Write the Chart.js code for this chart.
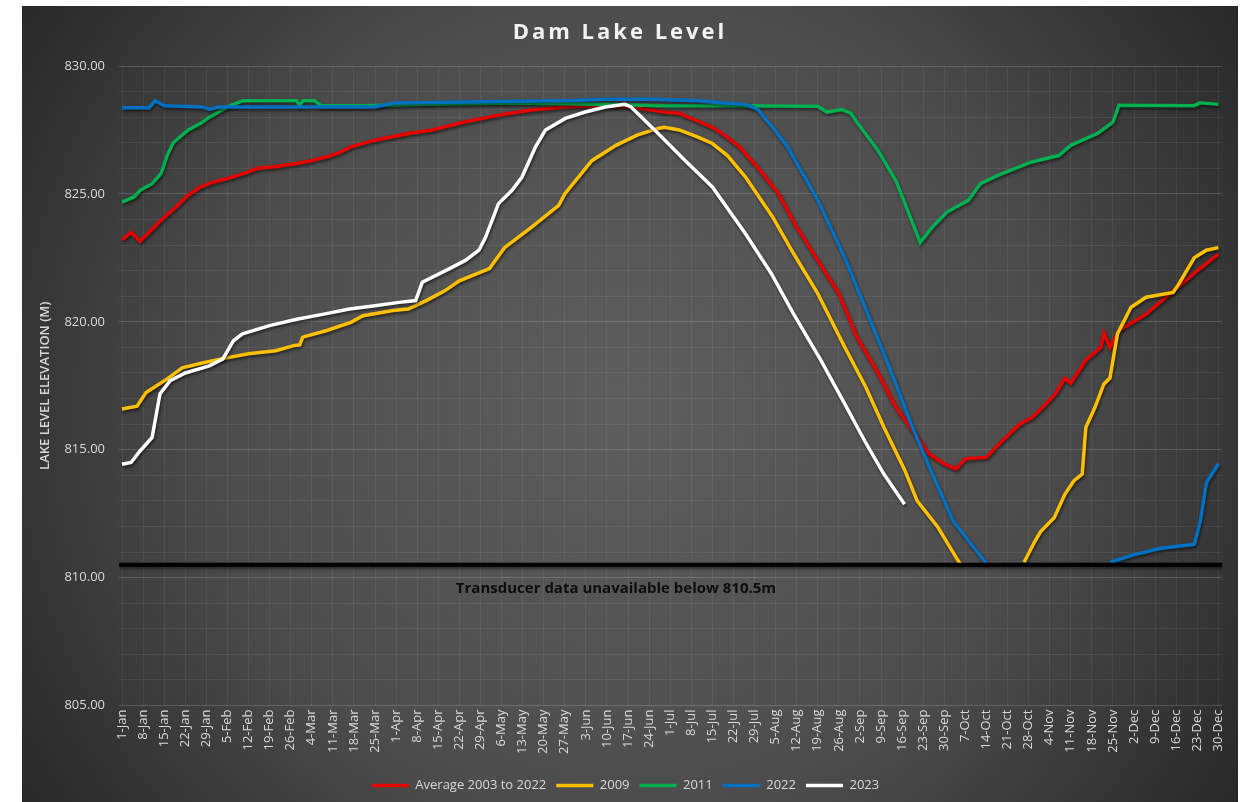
<!DOCTYPE html>
<html>
<head>
<meta charset="utf-8">
<script src="https://cdn.jsdelivr.net/npm/chart.js@4.4.1/dist/chart.umd.min.js"></script>
<style>
  html, body { margin: 0; padding: 0; background: #ffffff; }
  #wrap { position: absolute; left: 22px; top: 6px; width: 1216px; height: 796px; }
</style>
</head>
<body>
<div id="wrap"><canvas id="lakeChart"></canvas></div>
<script>
// tick labels, one every 7 days starting 1-Jan (day 0)
var tickLabels = ['1-Jan','8-Jan','15-Jan','22-Jan','29-Jan','5-Feb','12-Feb','19-Feb','26-Feb',
  '4-Mar','11-Mar','18-Mar','25-Mar','1-Apr','8-Apr','15-Apr','22-Apr','29-Apr',
  '6-May','13-May','20-May','27-May','3-Jun','10-Jun','17-Jun','24-Jun',
  '1-Jul','8-Jul','15-Jul','22-Jul','29-Jul','5-Aug','12-Aug','19-Aug','26-Aug',
  '2-Sep','9-Sep','16-Sep','23-Sep','30-Sep','7-Oct','14-Oct','21-Oct','28-Oct',
  '4-Nov','11-Nov','18-Nov','25-Nov','2-Dec','9-Dec','16-Dec','23-Dec','30-Dec'];

var seriesNames = ['Average 2003 to 2022', '2009', '2011', '2022', '2023'];
var seriesColors = ['#e60000', '#ffc000', '#00b050', '#0070c0', '#ffffff'];

// day of year (0 = 1-Jan) and lake level (m); null = below transducer range
var avgDays = [0,3,6,9,13,18,22,26,30,35,42,45,50,58,63,68,72,76,84,95,103,114,125,136,147,158,169,180,185,191,196,200,205,212,218,224,231,238,244,251,257,264,268,273,277,280,287,291,298,302,306,310,313,315,320,325,326,328,331,340,349,357,364];
var avgLevels = [823.2,823.5,823.15,823.5,823.97,824.5,824.95,825.27,825.45,825.6,825.86,826.0,826.05,826.19,826.3,826.45,826.6,826.84,827.1,827.36,827.5,827.82,828.08,828.28,828.4,828.45,828.4,828.2,828.15,827.85,827.6,827.3,826.84,825.9,825.0,823.7,822.4,821.1,819.4,818.0,816.65,815.5,814.83,814.44,814.25,814.65,814.7,815.2,816.0,816.25,816.7,817.2,817.8,817.6,818.5,819.0,819.55,819.0,819.66,820.3,821.2,822.0,822.65];

var y2009Days = [0,5,8,15,20,27,33,42,51,57,59,60,68,76,80,90,95,101,107,112,122,127,136,145,147,156,164,171,178,180,185,191,196,201,207,216,223,231,240,247,253,260,264,271,277,278.5,289,299.5,303,305,309.5,313,316,318.8,320,323,326,328,330.5,335,340,349,351,356,360,364];
var y2009Levels = [816.59,816.7,817.24,817.77,818.2,818.4,818.55,818.75,818.87,819.07,819.1,819.4,819.66,819.98,820.24,820.44,820.5,820.83,821.2,821.6,822.08,822.9,823.7,824.55,825.0,826.3,826.9,827.3,827.56,827.6,827.5,827.23,826.97,826.5,825.66,824.1,822.66,821.1,819.0,817.43,815.87,814.17,813.0,811.95,810.77,810.5,null,810.6,811.4,811.8,812.34,813.25,813.78,814.05,815.87,816.65,817.57,817.8,819.53,820.57,820.96,821.15,821.5,822.5,822.8,822.9];

var y2011Days = [0,4,6,10,13,15,17,22,26,29,35,40,58,59,60,64,66,80,100,130,160,180,200,231,234,239,242,244,251,257,262,265,269,274,281,285,291,302,311,315,324,329,331,356,358,364];
var y2011Levels = [824.68,824.88,825.14,825.4,825.8,826.5,827.0,827.5,827.75,828.0,828.4,828.64,828.64,828.45,828.64,828.64,828.45,828.45,828.5,828.55,828.5,828.45,828.45,828.43,828.2,828.3,828.15,827.8,826.7,825.5,824.0,823.1,823.7,824.3,824.75,825.4,825.73,826.25,826.5,826.9,827.37,827.8,828.47,828.45,828.56,828.5];

var y2022Days = [0,9,11,14,27,29,32,60,84,90,120,150,160,175,190,200,207,211,216,221,231,240,249,256.5,262,268.5,276,284,287,300,328,336,345,356,358,360,364];
var y2022Levels = [828.37,828.37,828.64,828.45,828.4,828.3,828.4,828.4,828.4,828.55,828.6,828.65,828.7,828.7,828.65,828.55,828.5,828.3,827.6,826.84,824.75,822.5,819.9,817.7,816.0,814.2,812.2,811.0,810.55,null,810.6,810.9,811.15,811.3,812.2,813.7,814.45];

var y2023Days = [0,3,6,10,12.6,16,21,29,33.5,37,40,49,58,67,75.5,84,92,97.5,99.7,108.6,114,118.5,120.7,125,129.5,132.8,137.3,140.6,147.2,153.8,160.5,167,169,178,187,196,207,215.6,223,232,240,246.6,253,259.8];
var y2023Levels = [814.43,814.5,814.95,815.48,817.18,817.7,818.0,818.28,818.55,819.26,819.53,819.85,820.1,820.3,820.5,820.63,820.76,820.83,821.55,822.07,822.4,822.8,823.3,824.62,825.14,825.66,826.84,827.5,827.95,828.2,828.4,828.5,828.4,827.36,826.3,825.27,823.44,821.88,820.3,818.5,816.78,815.34,814.04,812.87];

var thresholdLevel = 810.5;
var noteText = 'Transducer data unavailable below 810.5m';
var noteDay = 164;

function pts(days, levels){
	var out = [];
	for(var i=0; i<days.length; i++){
		out.push({x: days[i], y: levels[i]});
	}
	return out;
}

function series(idx, days, levels){
	return {
		label: seriesNames[idx],
		data: pts(days, levels),
		borderColor: seriesColors[idx],
		backgroundColor: seriesColors[idx],
		borderWidth: 3.5,
		pointRadius: 0,
		pointStyle: 'line',
		tension: 0,
		spanGaps: false,
		order: 5 - idx
	};
}

var bgPlugin = {
	id: 'bg',
	beforeDraw: function(chart){
		var ctx = chart.ctx, w = chart.width, h = chart.height;
		var g = ctx.createRadialGradient(w*0.5, h*0.5, 0, w*0.5, h*0.5, w*0.62);
		g.addColorStop(0, '#5e5e5e');
		g.addColorStop(0.55, '#4c4c4c');
		g.addColorStop(1, '#252525');
		ctx.save();
		ctx.fillStyle = g;
		ctx.fillRect(0, 0, w, h);
		ctx.restore();
	}
};

var shadowPlugin = {
	id: 'lineShadow',
	beforeDatasetDraw: function(chart){
		var ctx = chart.ctx;
		ctx.save();
		ctx.shadowColor = 'rgba(0,0,0,0.55)';
		ctx.shadowBlur = 3;
		ctx.shadowOffsetX = 1;
		ctx.shadowOffsetY = 2;
	},
	afterDatasetDraw: function(chart){
		chart.ctx.restore();
	}
};

var textPlugin = {
	id: 'texts',
	afterDraw: function(chart){
		var ctx = chart.ctx;
		ctx.save();
		// title
		ctx.fillStyle = '#f2f2f2';
		ctx.font = 'bold 22px "Open Sans"';
		ctx.textAlign = 'center';
		ctx.textBaseline = 'middle';
		if('letterSpacing' in ctx) ctx.letterSpacing = '3px';
		ctx.fillText('Dam Lake Level', chart.width/2 - 10, 27);
		if('letterSpacing' in ctx) ctx.letterSpacing = '0px';
		// note under the threshold line
		var x = chart.scales.x.getPixelForValue(noteDay);
		var y = chart.scales.y.getPixelForValue(thresholdLevel) + 24;
		ctx.fillStyle = '#0d0d0d';
		ctx.font = 'bold 15px "Open Sans"';
		ctx.fillText(noteText, x, y);
		ctx.restore();
	}
};

var datasets = [
	series(0, avgDays, avgLevels),
	series(1, y2009Days, y2009Levels),
	series(2, y2011Days, y2011Levels),
	series(3, y2022Days, y2022Levels),
	series(4, y2023Days, y2023Levels),
	{
		label: 'threshold',
		data: [{x: -1, y: thresholdLevel}, {x: 365.3, y: thresholdLevel}],
		borderColor: '#000000',
		backgroundColor: '#000000',
		borderWidth: 4,
		pointRadius: 0,
		order: 0
	}
];

var ctx = document.getElementById('lakeChart');
new Chart(ctx, {
	type: 'line',
	data: {datasets: datasets},
	plugins: [bgPlugin, shadowPlugin, textPlugin],
	options: {
		responsive: true,
		maintainAspectRatio: false,
		animation: false,
		layout: {padding: {top: 60, right: 9, bottom: 0, left: 0}},
		plugins: {
			title: {display: false},
			tooltip: {enabled: false},
			legend: {
				display: true,
				position: 'bottom',
				labels: {
					color: '#d9d9d9',
					font: {family: 'Open Sans', size: 13},
					usePointStyle: true,
					pointStyle: 'line',
					pointStyleWidth: 37,
					boxHeight: 13,
					padding: 10,
					filter: function(item){ return item.datasetIndex < 5; },
					sort: function(a, b){ return a.datasetIndex - b.datasetIndex; }
				}
			}
		},
		scales: {
			x: {
				type: 'linear',
				min: -1,
				max: 365.3,
				afterBuildTicks: function(scale){
					scale.ticks = tickLabels.map(function(t, i){ return {value: i*7}; });
				},
				afterFit: function(scale){ scale.height += 11; },
				ticks: {
					autoSkip: false,
					minRotation: 90,
					maxRotation: 90,
					padding: 4,
					color: '#d9d9d9',
					font: {family: 'Open Sans', size: 13},
					callback: function(value, index){ return tickLabels[index]; }
				},
				grid: {color: 'rgba(255,255,255,0.06)', drawTicks: false},
				border: {display: false}
			},
			y: {
				min: 805,
				max: 830,
				afterFit: function(scale){ scale.width = 97; },
				ticks: {
					stepSize: 1,
					autoSkip: false,
					padding: 14,
					color: '#d9d9d9',
					font: {family: 'Open Sans', size: 13},
					callback: function(v){ return v % 5 === 0 ? v.toFixed(2) : ''; }
				},
				grid: {
					drawTicks: false,
					color: function(c){
						return (c.tick && c.tick.value % 5 === 0) ? 'rgba(255,255,255,0.17)' : 'rgba(255,255,255,0.07)';
					}
				},
				border: {display: false},
				title: {
					display: true,
					text: 'LAKE LEVEL ELEVATION (M)',
					color: '#d9d9d9',
					font: {family: 'Open Sans', size: 13, weight: '600'},
					padding: {top: 15, bottom: 0}
				}
			}
		}
	}
});
</script>
</body>
</html>
